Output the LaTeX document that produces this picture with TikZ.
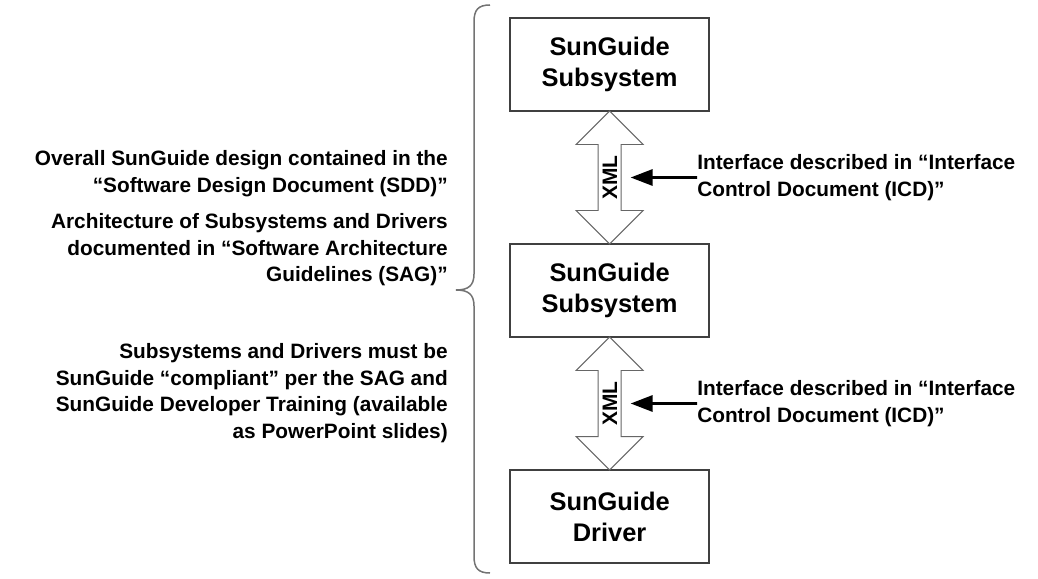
\documentclass[tikz,border=0pt]{standalone}
\usepackage{fontspec}
\setmainfont{Liberation Sans}
\usetikzlibrary{shapes.arrows,arrows.meta}

\tikzset{
    sgbox/.style={draw=black!75, line width=1.07pt, minimum width=4.975cm,
        minimum height=2.325cm, align=center,
        font=\fontsize{18.1}{22}\selectfont\bfseries},
    xmlarrow/.style={shape=double arrow, draw=black!60, line width=0.7pt,
        fill=white, rotate=90, minimum height=3.325cm,
        double arrow head extend=0.55cm, inner xsep=0pt, inner ysep=0.085cm,
        text height=0.38cm, text depth=0pt,
        font=\fontsize{14.9}{18}\selectfont\bfseries},
    note/.style={inner sep=0pt, font=\fontsize{14.8}{18.85}\selectfont\bfseries},
    pointer/.style={line width=2.1pt, -{Triangle[length=0.55cm,width=0.4cm]}}
}

\begin{document}
\begin{tikzpicture}
    \useasboundingbox (0, 0) rectangle (25.95, 14.45);
    % the three SunGuide blocks
    \node[sgbox] (subsysA) at (15.24, 12.8375) {SunGuide\\Subsystem};
    \node[sgbox] (subsysB) at (15.24, 7.1875) {SunGuide\\Subsystem};
    \node[sgbox] (driver) at (15.24, 1.5375) {SunGuide\\Driver};
    % XML interfaces
    \node[xmlarrow] (xmlA) at (15.24, 10.0125) {XML};
    \node[xmlarrow] (xmlB) at (15.24, 4.3625) {XML};
    \node[note, anchor=west, align=left] (icdA) at (17.425, 10.0125)
        {Interface described in “Interface\\Control Document (ICD)”};
    \node[note, anchor=west, align=left] (icdB) at (17.425, 4.3625)
        {Interface described in “Interface\\Control Document (ICD)”};
    \draw[pointer] (icdA.west) -- ([xshift=0.225cm]xmlA.south);
    \draw[pointer] (icdB.west) -- ([xshift=0.225cm]xmlB.south);
    % brace
    \draw[black!55, line width=1.07pt] (12.25, 14.325)
        .. controls (11.95, 14.325) and (11.85, 14.2) .. (11.85, 13.9)
        -- (11.85, 7.6)
        .. controls (11.85, 7.3) and (11.7, 7.2) .. (11.4, 7.2)
        .. controls (11.7, 7.2) and (11.85, 7.1) .. (11.85, 6.8)
        -- (11.85, 0.55)
        .. controls (11.85, 0.25) and (11.95, 0.125) .. (12.25, 0.125);
    % notes on the left
    \node[note, anchor=east, align=right] (noteSDD) at (11.2, 10.1125)
        {Overall SunGuide design contained in the\\“Software Design Document (SDD)”};
    \node[note, anchor=east, align=right] (noteSAG) at (11.2, 8.2)
        {Architecture of Subsystems and Drivers\\documented in “Software Architecture\\Guidelines (SAG)”};
    \node[note, anchor=east, align=right] (noteTrain) at (11.2, 4.625)
        {Subsystems and Drivers must be\\SunGuide “compliant” per the SAG and\\SunGuide Developer Training (available\\as PowerPoint slides)};
\end{tikzpicture}
\end{document}
